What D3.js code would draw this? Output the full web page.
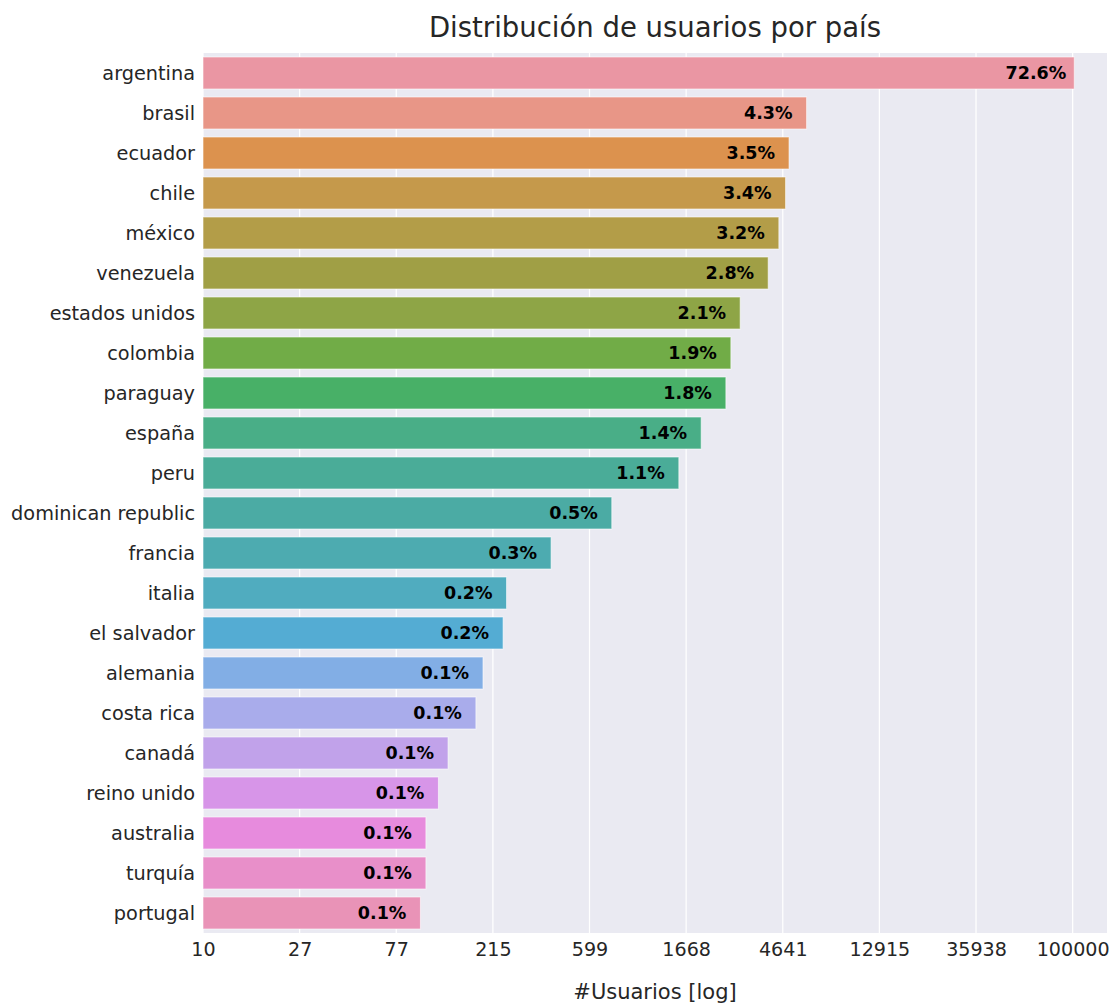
<!DOCTYPE html>
<html>
<head>
<meta charset="utf-8">
<script src="https://cdn.jsdelivr.net/npm/d3@7"></script>
<style>
  html, body { margin: 0; padding: 0; background: #fff; }
  svg { display: block; font-family: "DejaVu Sans", sans-serif; }
</style>
</head>
<body>
<svg id="chart" width="1120" height="1005"></svg>
<script>
// Users per country (absolute counts)
const countries = ["argentina", "brasil", "ecuador", "chile", "méxico", "venezuela",
  "estados unidos", "colombia", "paraguay", "españa", "peru", "dominican republic",
  "francia", "italia", "el salvador", "alemania", "costa rica", "canadá",
  "reino unido", "australia", "turquía", "portugal"];
const users = [101720, 5974, 4960, 4782, 4453, 3977, 2956, 2679, 2541, 1956, 1544,
  759, 399, 249, 240, 194, 180, 134, 121, 106, 106, 100];

// Log-spaced tick positions and their printed labels
const tickValues = [10, 27.8256, 77.4264, 215.443, 599.484, 1668.10, 4641.59, 12915.5, 35938.1, 100000];
const tickLabels = ["10", "27", "77", "215", "599", "1668", "4641", "12915", "35938", "100000"];

const title = "Distribución de usuarios por país";
const xTitle = "#Usuarios [log]";

// ---- HUSL colour conversion ----
const M = [[3.2406, -1.5372, -0.4986], [-0.9689, 1.8758, 0.0415], [0.0557, -0.2040, 1.0570]];
const refU = 0.19784, refV = 0.46834;
function maxChroma(L, H) {
  const hr = H * Math.PI / 180, sinH = Math.sin(hr), cosH = Math.cos(hr);
  const sub1 = Math.pow(L + 16, 3) / 1560896.0;
  const sub2 = sub1 > 0.008856 ? sub1 : L / 903.3;
  let result = Infinity;
  for (const [m1, m2, m3] of M) {
    const top = (0.99915 * m1 + 1.05122 * m2 + 1.14460 * m3) * sub2;
    const rb = 0.86330 * m3 - 0.17266 * m2;
    const lb = 0.12949 * m3 - 0.38848 * m1;
    const bottom = (rb * sinH + lb * cosH) * sub2;
    for (const t of [0, 1]) {
      const C = L * (top - 1.05122 * t) / (bottom + 0.17266 * sinH * t);
      if (C > 0 && C < result) result = C;
    }
  }
  return result;
}
function huslToRgb(H, S, L) {
  const C = maxChroma(L, H) / 100 * S;
  const hr = H * Math.PI / 180;
  const U = Math.cos(hr) * C, V = Math.sin(hr) * C;
  const fInv = t => (t * t * t > 0.008856 ? t * t * t : (116 * t - 16) / 903.3);
  const Y = fInv((L + 16) / 116);
  const vu = U / (13 * L) + refU, vv = V / (13 * L) + refV;
  const X = 0 - (9 * Y * vu) / ((vu - 4) * vv - vu * vv);
  const Z = (9 * Y - 15 * vv * Y - vv * X) / (3 * vv);
  const fromLin = c => (c <= 0.0031308 ? 12.92 * c : 1.055 * Math.pow(c, 1 / 2.4) - 0.055);
  return M.map(r => Math.min(1, Math.max(0, fromLin(r[0] * X + r[1] * Y + r[2] * Z))));
}
function huslPalette(n, h = 0.01, s = 0.9, l = 0.7) {
  const out = [];
  for (let i = 0; i < n; i++) {
    const hue = ((i / n + h) % 1) * 359;
    const [r, g, b] = huslToRgb(hue, s * 99, l * 99);
    const c = d3.hsl(d3.rgb(r * 255, g * 255, b * 255));
    c.s *= 0.75; // bar saturation
    out.push(c.formatHex());
  }
  return out;
}
const colors = huslPalette(countries.length);

// ---- layout ----
const svg = d3.select("#chart");
const margin = { left: 203, right: 13, top: 53, bottom: 72 };
const W = 1120, H = 1005;
const iw = W - margin.left - margin.right, ih = H - margin.top - margin.bottom;
const g = svg.append("g").attr("transform", `translate(${margin.left},${margin.top})`);

const x = d3.scaleLog().domain([10, Math.pow(10, 5.158)]).range([0, iw]);
const y = d3.scaleBand().domain(countries).range([0, ih]).paddingInner(0.2).paddingOuter(0.1);

g.append("rect").attr("width", iw).attr("height", ih).attr("fill", "#EAEAF2");

// vertical grid lines
g.append("g").selectAll("line").data(tickValues).join("line")
  .attr("x1", d => x(d)).attr("x2", d => x(d))
  .attr("y1", 0).attr("y2", ih)
  .attr("stroke", "#fff").attr("stroke-width", 1.25);

const total = d3.sum(users);
const rows = countries.map((c, i) => ({ c, v: users[i], color: colors[i] }));

g.append("g").selectAll("rect").data(rows).join("rect")
  .attr("x", 0).attr("y", d => y(d.c))
  .attr("width", d => x(d.v)).attr("height", y.bandwidth())
  .attr("fill", d => d.color)
  .attr("stroke", "#fff").attr("stroke-opacity", 0.6).attr("stroke-width", 1);

// share labels, centred at value / 1.5 on the log axis
const fmt = d3.format(".1%");
g.append("g").selectAll("text").data(rows).join("text")
  .attr("x", d => x(d.v / 1.5))
  .attr("y", d => y(d.c) + y.bandwidth() / 2)
  .attr("dy", "0.36em")
  .attr("text-anchor", "middle")
  .attr("font-weight", "bold")
  .attr("font-size", 17.5)
  .attr("fill", "#000")
  .text(d => fmt(d.v / total));

// y axis labels
g.append("g").selectAll("text").data(countries).join("text")
  .attr("x", -8).attr("y", d => y(d) + y.bandwidth() / 2)
  .attr("dy", "0.36em").attr("text-anchor", "end")
  .attr("font-size", 19.3).attr("fill", "#262626")
  .text(d => d);

// x axis
const xAxis = d3.axisBottom(x).tickValues(tickValues)
  .tickFormat((d, i) => tickLabels[i]).tickSize(0).tickPadding(9);
const ax = g.append("g").attr("transform", `translate(0,${ih})`).call(xAxis);
ax.select(".domain").remove();
ax.selectAll("text").attr("font-size", 19.1).attr("fill", "#262626")
  .attr("font-family", "DejaVu Sans, sans-serif");

g.append("text").attr("x", iw / 2).attr("y", ih + 66)
  .attr("text-anchor", "middle").attr("font-size", 21).attr("fill", "#262626")
  .text(xTitle);

svg.append("text").attr("x", margin.left + iw / 2).attr("y", 37)
  .attr("text-anchor", "middle").attr("font-size", 27.5).attr("fill", "#262626")
  .text(title);
</script>
</body>
</html>
